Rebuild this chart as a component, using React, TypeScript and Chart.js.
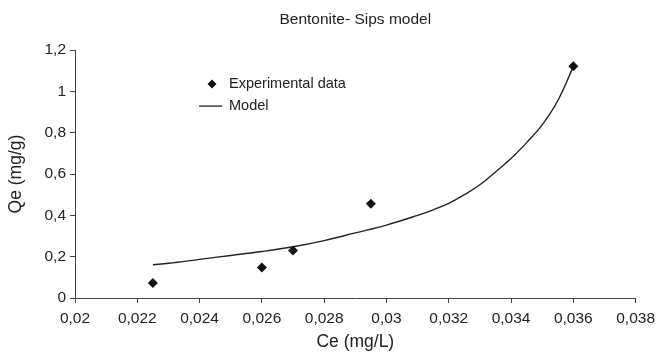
import React, { useEffect, useRef } from "react";
import { Chart, registerables } from "chart.js";

Chart.register(...registerables);

const expCe = [0.0225, 0.026, 0.027, 0.0295, 0.036];
const expQe = [0.073, 0.148, 0.23, 0.456, 1.122];

const modelCe = [0.0225, 0.023, 0.024, 0.025, 0.026, 0.027, 0.028, 0.029, 0.03, 0.031, 0.0315, 0.032, 0.0325, 0.033, 0.0335, 0.034, 0.0345, 0.035, 0.0355, 0.036];
const modelQe = [0.161, 0.168, 0.187, 0.206, 0.225, 0.248, 0.278, 0.315, 0.353, 0.4, 0.427, 0.458, 0.5, 0.548, 0.61, 0.675, 0.752, 0.838, 0.955, 1.12];

const titleText = "Bentonite- Sips model";
const xTitle = "Ce (mg/L)";
const yTitle = "Qe (mg/g)";
const legendLabels = ["Experimental data", "Model"];

const FONT = "'Liberation Sans', Arial, Helvetica, sans-serif";
const INK = "#222";
const AXIS = "#444";

const fmt = (v: number) => String(Number(Number(v).toFixed(4))).replace(".", ",");

const legendPlugin = {
  id: "insideLegend",
  afterDraw(chart: any) {
    const ctx = chart.ctx;
    const a = chart.chartArea;
    const x0 = a.left + 137;
    const y1 = a.top + 34;
    const y2 = a.top + 56;
    ctx.save();
    ctx.fillStyle = "#111";
    ctx.beginPath();
    ctx.moveTo(x0, y1 - 4.5);
    ctx.lineTo(x0 + 4.5, y1);
    ctx.lineTo(x0, y1 + 4.5);
    ctx.lineTo(x0 - 4.5, y1);
    ctx.closePath();
    ctx.fill();
    ctx.strokeStyle = "#222";
    ctx.lineWidth = 1.3;
    ctx.beginPath();
    ctx.moveTo(x0 - 13, y2);
    ctx.lineTo(x0 + 10, y2);
    ctx.stroke();
    ctx.fillStyle = INK;
    ctx.font = `14.5px ${FONT}`;
    ctx.textBaseline = "middle";
    ctx.textAlign = "left";
    ctx.fillText(legendLabels[0], x0 + 17, y1);
    ctx.fillText(legendLabels[1], x0 + 17, y2);
    ctx.restore();
  },
};

export default function App() {
  const ref = useRef<HTMLCanvasElement>(null);
  useEffect(() => {
    if (!ref.current) return;
    const chart = new Chart(ref.current, {
      type: "scatter",
      data: {
        datasets: [
          {
            type: "scatter",
            label: legendLabels[0],
            data: expCe.map((x, i) => ({ x, y: expQe[i] })),
            pointStyle: "rectRot",
            pointRadius: 5,
            backgroundColor: "#111",
            borderColor: "#111",
            borderWidth: 0,
          },
          {
            type: "line",
            label: legendLabels[1],
            data: modelCe.map((x, i) => ({ x, y: modelQe[i] })),
            borderColor: "#222",
            borderWidth: 1.4,
            pointRadius: 0,
            fill: false,
            tension: 0.4,
          } as any,
        ],
      },
      options: {
        animation: false,
        responsive: false,
        devicePixelRatio: 1,
        layout: { padding: { left: 0, right: 25, top: 0, bottom: 0 } },
        plugins: {
          legend: { display: false },
          tooltip: { enabled: false },
          title: {
            display: true,
            text: titleText,
            fullSize: false,
            color: INK,
            font: { family: FONT, size: 15.5, weight: "normal" },
            padding: { top: 10, bottom: 21.5 },
          },
        },
        scales: {
          x: {
            type: "linear",
            min: 0.02,
            max: 0.038,
            afterFit(scale: any) {
              scale.height = 56;
            },
            ticks: {
              stepSize: 0.002,
              color: INK,
              font: { family: FONT, size: 15.5 },
              padding: 6,
              maxRotation: 0,
              callback: (v: any) => fmt(v),
            },
            grid: { drawOnChartArea: false, drawTicks: true, tickLength: 5, color: AXIS },
            border: { display: true, color: AXIS, width: 1 },
            title: {
              display: true,
              text: xTitle,
              color: INK,
              font: { family: FONT, size: 17.5 },
              padding: { top: 0, bottom: 1 },
            },
          },
          y: {
            type: "linear",
            min: 0,
            max: 1.2,
            afterFit(scale: any) {
              scale.width = 75;
            },
            ticks: {
              stepSize: 0.2,
              color: INK,
              font: { family: FONT, size: 15.5 },
              padding: 4,
              callback: (v: any) => fmt(v),
            },
            grid: { drawOnChartArea: false, drawTicks: true, tickLength: 5, color: AXIS },
            border: { display: true, color: AXIS, width: 1 },
            title: {
              display: true,
              text: yTitle,
              color: INK,
              font: { family: FONT, size: 17.5 },
              padding: { top: 6, bottom: 0 },
            },
          },
        },
      },
      plugins: [legendPlugin],
    } as any);
    return () => chart.destroy();
  }, []);
  return (
    <div style={{ position: "fixed", left: 0, top: 0, width: 661, height: 354, background: "#fff" }}>
      <canvas ref={ref} width={661} height={354} style={{ width: 661, height: 354 }} />
    </div>
  );
}
